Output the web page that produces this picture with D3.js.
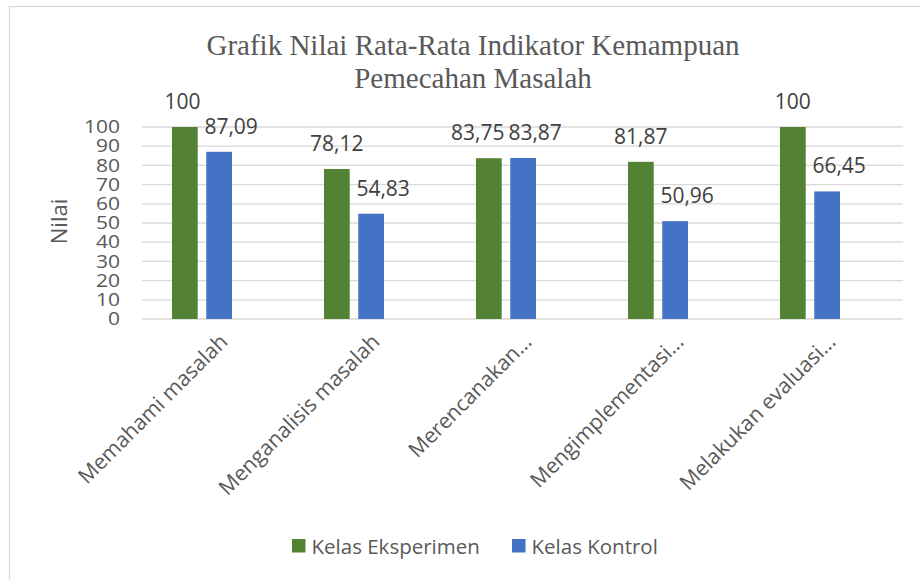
<!DOCTYPE html>
<html>
<head>
<meta charset="utf-8">
<script src="https://cdn.jsdelivr.net/npm/d3@7"></script>
<style>
  body { margin: 0; background: #fff; }
  svg { display: block; }
</style>
</head>
<body>
<div id="chart"></div>
<script>
  // data
  var categories = ['Memahami masalah', 'Menganalisis masalah', 'Merencanakan...', 'Mengimplementasi...', 'Melakukan evaluasi...'];
  var seriesNames = ['Kelas Eksperimen', 'Kelas Kontrol'];
  var eksperimen = [100, 78.12, 83.75, 81.87, 100];
  var kontrol = [87.09, 54.83, 83.87, 50.96, 66.45];
  var yTicks = [0, 10, 20, 30, 40, 50, 60, 70, 80, 90, 100];
  var titleLines = ['Grafik Nilai Rata-Rata Indikator Kemampuan', 'Pemecahan Masalah'];
  var yTitle = 'Nilai';

  var colors = ['#548235', '#4472c4'];
  var textColor = '#595959';
  var labelColor = '#404040';
  var sans = '"Open Sans", sans-serif';

  var width = 920, height = 580;

  var svg = d3.select('#chart').append('svg')
    .attr('width', width)
    .attr('height', height);

  // chart frame
  svg.append('rect')
    .attr('x', 9.5).attr('y', 6.5)
    .attr('width', 930).attr('height', 600)
    .attr('fill', '#fff')
    .attr('stroke', '#d9d9d9')
    .attr('stroke-width', 1.3);

  // title
  svg.append('text')
    .attr('text-anchor', 'middle')
    .attr('font-family', '"Liberation Serif", "Times New Roman", serif')
    .attr('font-size', 29)
    .attr('fill', textColor)
    .selectAll('tspan')
    .data(titleLines)
    .enter().append('tspan')
    .attr('x', 473)
    .attr('y', function(d, i) { return 55 + i * 33; })
    .text(function(d) { return d; });

  var y = d3.scaleLinear().domain([0, 100]).range([319, 127]);

  var x0 = d3.scaleBand().domain(categories).range([126, 886]);
  var x1 = d3.scaleBand().domain(seriesNames).range([46, 106]).paddingInner(0.25);

  // gridlines
  svg.append('g').selectAll('line')
    .data(yTicks)
    .enter().append('line')
    .attr('x1', 142).attr('x2', 903)
    .attr('y1', function(d) { return y(d); })
    .attr('y2', function(d) { return y(d); })
    .attr('stroke', '#d9d9d9')
    .attr('stroke-width', 1.3);

  // y axis
  var yAxis = svg.append('g')
    .attr('transform', 'translate(120,0)')
    .call(d3.axisLeft(y).tickValues(yTicks).tickSize(0).tickPadding(0));
  yAxis.select('.domain').remove();
  yAxis.selectAll('text')
    .attr('font-family', sans)
    .attr('font-size', 17.5)
    .attr('fill', textColor)
    .attr('transform', 'scale(1.2,1)');

  // y title
  svg.append('text')
    .attr('transform', 'translate(67,221.5) rotate(-90)')
    .attr('text-anchor', 'middle')
    .attr('font-family', sans)
    .attr('font-size', 22)
    .attr('fill', textColor)
    .text(yTitle);

  // bars
  var rows = categories.map(function(c, i) {
    return { cat: c, values: [eksperimen[i], kontrol[i]] };
  });

  var groups = svg.append('g').selectAll('g')
    .data(rows)
    .enter().append('g')
    .attr('transform', function(d) { return 'translate(' + x0(d.cat) + ',0)'; });

  groups.selectAll('rect')
    .data(function(d) { return d.values.map(function(v, j) { return { s: seriesNames[j], v: v, j: j }; }); })
    .enter().append('rect')
    .attr('x', function(d) { return x1(d.s); })
    .attr('y', function(d) { return y(d.v); })
    .attr('width', x1.bandwidth())
    .attr('height', function(d) { return y(0) - y(d.v); })
    .attr('fill', function(d) { return colors[d.j]; });

  // value labels, blue ones nudged right, green pushed left if they collide
  var fmt = function(v) { return String(v).replace('.', ','); };
  groups.each(function(d) {
    var g = d3.select(this);
    var labels = d.values.map(function(v, j) {
      var cx = x1(seriesNames[j]) + x1.bandwidth() / 2 + (j === 1 ? 12 : 0);
      return g.append('text')
        .attr('x', cx)
        .attr('y', y(v) - 18)
        .attr('text-anchor', 'middle')
        .attr('font-family', sans)
        .attr('font-size', 21)
        .attr('fill', labelColor)
        .text(fmt(v));
    });
    var a = labels[0].node().getBBox(), b = labels[1].node().getBBox();
    var vOverlap = a.y < b.y + b.height && b.y < a.y + a.height;
    var overlap = a.x + a.width + 4 - b.x;
    if (vOverlap && overlap > 0) {
      labels[0].attr('x', +labels[0].attr('x') - overlap);
    }
  });

  // x axis labels
  svg.append('g').selectAll('text')
    .data(categories)
    .enter().append('text')
    .attr('transform', function(d) {
      return 'translate(' + (x0(d) + 76 + 27) + ',343) rotate(-45)';
    })
    .attr('text-anchor', 'end')
    .attr('font-family', sans)
    .attr('font-size', 21.2)
    .attr('fill', textColor)
    .text(function(d) { return d; });

  // legend
  var legend = svg.append('g').selectAll('g')
    .data(seriesNames)
    .enter().append('g')
    .attr('transform', function(d, i) { return 'translate(' + (292 + i * 220) + ',539)'; });
  legend.append('rect')
    .attr('width', 13.5).attr('height', 13.5)
    .attr('fill', function(d, i) { return colors[i]; });
  legend.append('text')
    .attr('x', 19.5).attr('y', 14.5)
    .attr('font-family', sans)
    .attr('font-size', 20.5)
    .attr('fill', textColor)
    .text(function(d) { return d; });
</script>
</body>
</html>
